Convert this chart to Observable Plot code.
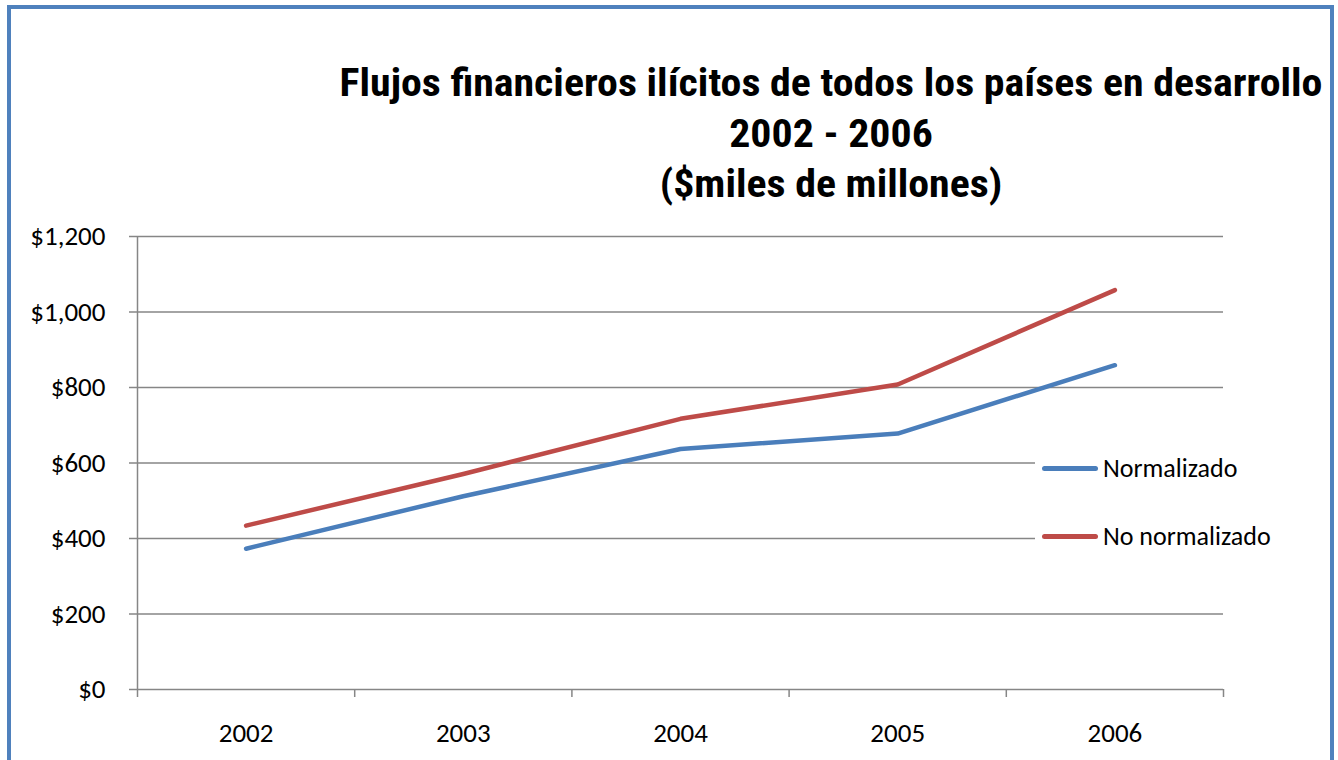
<!DOCTYPE html>
<html>
<head>
<meta charset="utf-8">
<script src="https://cdn.jsdelivr.net/npm/d3@7"></script>
<script src="https://cdn.jsdelivr.net/npm/@observablehq/plot@0.6"></script>
<style>
  html, body { margin: 0; padding: 0; width: 1338px; height: 760px; overflow: hidden; background: #fff; }
  #frame { position: absolute; left: 7px; top: 5px; width: 1319px; height: 820px;
           border: 4.5px solid #4F81BD; border-bottom: none; box-sizing: content-box; }
  #chart { position: absolute; left: 0; top: 0; }
  #title { position: absolute; left: 0; top: 0; }
  #legend { position: absolute; left: 1035px; top: 440px; width: 260px; height: 120px; background: #fff; }
  .lg-row { position: absolute; left: 0; display: flex; align-items: center; height: 30px;
            font-family: Carlito, Calibri, Lato, sans-serif; font-size: 26px; color: #000; }
  .lg-swatch { width: 56px; height: 5px; border-radius: 3px; margin-left: 7px; margin-right: 5px; }
</style>
</head>
<body>
<div id="frame"></div>
<div id="chart"></div>
<svg id="title" width="1338" height="230"></svg>
<div id="legend"></div>
<script>
// ---- data ----
const years = [2002, 2003, 2004, 2005, 2006];
const normalizado = [373, 512, 637, 678, 859];
const noNormalizado = [434, 571, 717, 808, 1058];
const seriesNames = ["Normalizado", "No normalizado"];
const seriesColors = ["#4A7EBB", "#BE4B48"];
const yTicks = [0, 200, 400, 600, 800, 1000, 1200];
const xBoundaries = [2001.5, 2002.5, 2003.5, 2004.5, 2005.5, 2006.5];
const titleLines = [
  "Flujos financieros ilícitos de todos los países en desarrollo",
  "2002 - 2006",
  "($miles de millones)"
];

const data = [];
years.forEach((yr, i) => {
  data.push({year: yr, value: normalizado[i], series: seriesNames[0]});
});
years.forEach((yr, i) => {
  data.push({year: yr, value: noNormalizado[i], series: seriesNames[1]});
});

const fmt = d3.format(",");
const grid = "#868686";

const chart = Plot.plot({
  width: 1338,
  height: 760,
  marginLeft: 137,
  marginRight: 115,
  marginTop: 236,
  marginBottom: 71,
  style: {fontFamily: "Carlito, Calibri, Lato, sans-serif", fontSize: "27px", color: "#000", background: "transparent", overflow: "visible"},
  x: {type: "linear", domain: [2001.5, 2006.5]},
  y: {domain: [0, 1200]},
  color: {domain: seriesNames, range: seriesColors},
  marks: [
    Plot.gridY(yTicks, {stroke: grid, strokeOpacity: 1, strokeWidth: 1.5}),
    Plot.ruleX([xBoundaries[0]], {stroke: grid, strokeWidth: 1.5}),
    Plot.axisY(yTicks, {tickSize: 8, tickPadding: 24, stroke: grid, strokeWidth: 1.5, strokeOpacity: 1,
      tickFormat: d => "$" + fmt(d), label: null, fontSize: 27}),
    Plot.axisX(xBoundaries, {tickSize: 8, stroke: grid, strokeWidth: 1.5, strokeOpacity: 1, tickFormat: () => "", label: null}),
    Plot.axisX(years, {tickSize: 0, tickPadding: 33, tickFormat: d => String(d), label: null, fontSize: 27}),
    Plot.line(data, {x: "year", y: "value", z: "series", stroke: "series", strokeWidth: 4.5, strokeLinecap: "round", strokeLinejoin: "round"})
  ]
});
document.getElementById("chart").appendChild(chart);

// ---- title ----
const tsvg = d3.select("#title");
const cx = 831;
const g = tsvg.append("g");
const baselines = [96, 147, 197];
const texts = titleLines.map((t, i) => g.append("text")
  .attr("x", cx).attr("y", baselines[i])
  .attr("text-anchor", "middle")
  .style("font-family", "'Liberation Sans Narrow', 'Arial Narrow', 'Roboto Condensed', 'Liberation Sans', sans-serif")
  .style("font-weight", "bold")
  .style("font-size", "38px")
  .style("fill", "#000")
  .text(t));
const w0 = texts[0].node().getComputedTextLength();
const k = 983 / w0;
g.attr("transform", `translate(${cx},0) scale(${k},1) translate(${-cx},0)`);

// ---- legend ----
const legend = document.getElementById("legend");
const rowTops = [13, 81];
seriesNames.forEach((name, i) => {
  const row = document.createElement("div");
  row.className = "lg-row";
  row.style.top = rowTops[i] + "px";
  const sw = document.createElement("div");
  sw.className = "lg-swatch";
  sw.style.background = seriesColors[i];
  const tx = document.createElement("span");
  tx.textContent = name;
  row.appendChild(sw);
  row.appendChild(tx);
  legend.appendChild(row);
});
</script>
</body>
</html>
